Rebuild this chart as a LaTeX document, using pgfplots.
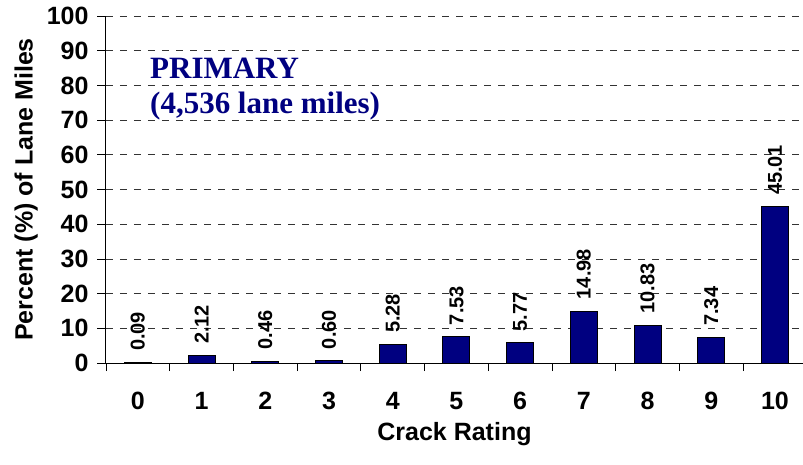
\documentclass[border=0pt]{standalone}
\usepackage{fontspec}
\setmainfont{Liberation Sans}
\newfontfamily\serifbold{Liberation Serif}
\usepackage{pgfplots}
\pgfplotsset{compat=1.18}
\usetikzlibrary{calc}
\definecolor{navy}{HTML}{000080}
\newcommand\tickfont{\fontsize{25pt}{29pt}\selectfont\bfseries}
\newcommand\valfont{\fontsize{20pt}{24pt}\selectfont\bfseries}

\begin{document}
\begin{tikzpicture}
\begin{axis}[
  name=ax,
  scale only axis,
  width=697pt, height=347pt,
  ybar, bar width=27pt,
  xmin=-0.5, xmax=10.44,
  ymin=0, ymax=100,
  axis x line*=bottom, axis y line*=left,
  axis line style={black, line width=1pt},
  xtick={0,...,10},
  major x tick style={draw=none},
  minor xtick={-0.5,0.5,...,9.5},
  minor x tick style={black, line width=0.8pt},
  minor tick length=8pt,
  ytick={0,10,...,100},
  major y tick style={black, line width=0.8pt},
  tick align=outside,
  major tick length=9pt,
  ymajorgrids,
  grid style={dashed, dash pattern=on 7pt off 7pt, black!80, line width=0.7pt},
  /pgf/number format/assume math mode=true,
  xticklabels={0,1,2,3,4,5,6,7,8,9,10},
  yticklabels={0,10,20,30,40,50,60,70,80,90,100},
  yticklabel style={font=\tickfont, xshift=-5pt},
  xticklabel style={font=\tickfont, yshift=-17pt},
  xlabel={Crack Rating},
  ylabel={Percent (\%) of Lane Miles},
  label style={font=\tickfont},
  xlabel style={yshift=-5pt},
  ylabel style={yshift=2pt},
  nodes near coords,
  point meta=explicit symbolic,
  every node near coord/.append style={font=\valfont, rotate=90, anchor=west, xshift=8pt},
  clip=false,
]
\addplot[fill=navy, draw=black, line width=1pt] coordinates {
  (0,0.09) [0.09]
  (1,2.12) [2.12]
  (2,0.46) [0.46]
  (3,0.60) [0.60]
  (4,5.28) [5.28]
  (5,7.53) [7.53]
  (6,5.77) [5.77]
  (7,14.98) [14.98]
  (8,10.83) [10.83]
  (9,7.34) [7.34]
  (10,45.01) [45.01]
};
\end{axis}
\node[anchor=base west, text=navy, font=\fontsize{31}{36}\serifbold\bfseries, inner sep=0pt]
  at ($(ax.north west)+(44pt,-62pt)$) {PRIMARY};
\node[anchor=base west, text=navy, font=\fontsize{31}{36}\serifbold\bfseries, inner sep=0pt]
  at ($(ax.north west)+(44pt,-97pt)$) {(4,536 lane miles)};
\pgfresetboundingbox
\path[use as bounding box] ($(ax.south west)+(-106pt,-101pt)$) rectangle ($(ax.north west)+(697pt,16pt)$);
\end{tikzpicture}
\end{document}
